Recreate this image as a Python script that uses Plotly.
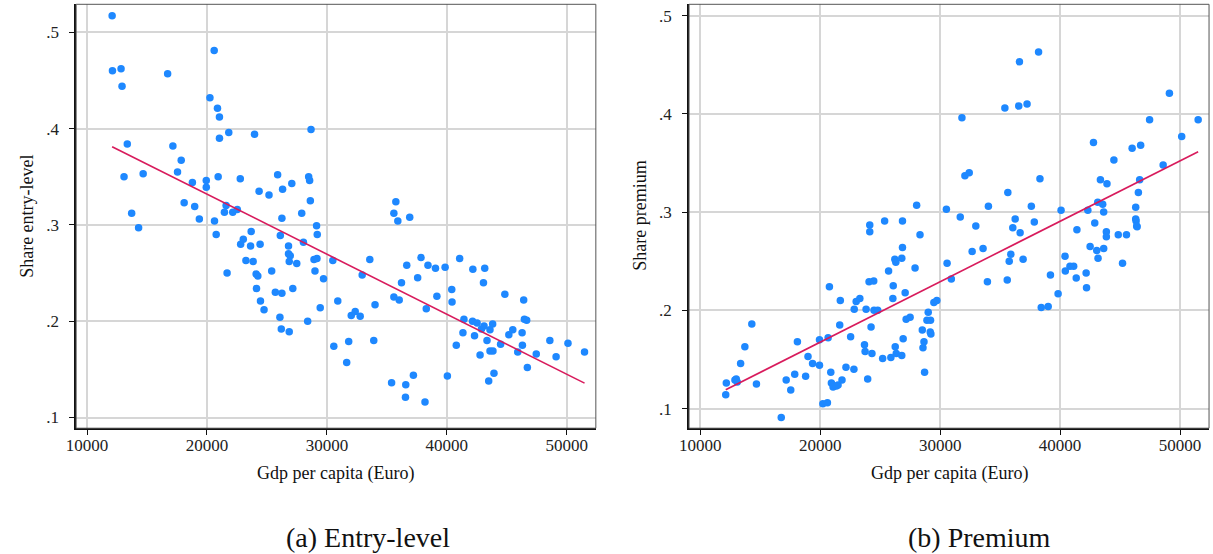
import numpy as np
import plotly.graph_objects as go

# ---------------- data ----------------
gdp_entry = [12091,12117,12835,12917,13355,13083,14678,13719,14297,16719,
             17157,17851,17545,18785,18099,18975,19364,19942,19942,20628,
             20603,20248,20876,21041,21041,21818,20934,21595,21455,22149,
             22529,22777,23967,24347,25174,25893,26306,26248,27074,27901,
             28480,28562,28678,28620,29140,29198,20769,23686,23029,22810,
             23636,24430,26116,26802,26800,26942,26860,27488,28045,28926,
             29174,29008,29719,30496,23248,23851,21678,24099,24240,25397,
             24132,25702,26248,27157,24463,24760,26083,26198,26860,28397,
             29446,30909,32033,32364,32777,30578,31818,35752,35587,35917,
             36909,33579,32944,34017,33909,31653,35397,36579,36554,37215,
             38182,35587,36033,36223,36661,37851,37570,38430,38289,39058,
             39860,39174,40413,40438,41074,42174,43165,43058,44843,46413,
             40050,40793,41430,41347,42149,42529,42314,42777,43107,42893,
             43826,43603,43355,43603,43851,43496,43934,44488,45174,45504,
             46281,46306,45917,46471,46661,46719,47463,48595,49116,50107,
             51488]
share_entry = [.517,.460,.462,.444,.384,.350,.353,.312,.297,.457,
               .382,.367,.355,.344,.323,.319,.306,.346,.339,.304,
               .481,.432,.421,.412,.390,.396,.350,.320,.313,.313,
               .316,.348,.394,.335,.331,.352,.337,.307,.343,.312,
               .350,.346,.399,.325,.299,.290,.290,.293,.285,.280,
               .278,.280,.289,.278,.270,.268,.262,.260,.282,.264,
               .265,.252,.244,.263,.263,.262,.250,.249,.247,.252,
               .234,.230,.229,.234,.221,.212,.204,.192,.189,.200,
               .214,.221,.206,.210,.205,.174,.179,.324,.312,.304,
               .308,.264,.248,.217,.180,.157,.136,.134,.121,.144,
               .116,.225,.222,.240,.258,.266,.245,.258,.213,.255,
               .256,.226,.233,.220,.265,.254,.255,.240,.228,.222,
               .143,.175,.202,.188,.200,.198,.185,.165,.195,.192,
               .197,.191,.180,.169,.169,.138,.146,.176,.186,.191,
               .188,.175,.168,.202,.201,.152,.166,.180,.163,.177,
               .168]

gdp_premium = [12124,12174,12893,13000,13083,13364,13719,14298,14686,16752,
               17165,17545,17876,18099,18785,18983,19364,19942,19942,20223,
               20603,20661,20769,20884,20934,21074,21347,21488,21818,22149,
               21628,21678,22537,22810,22837,23000,23306,23826,24488,24793,
               23694,23744,24314,23959,24240,24074,24463,24132,24132,25207,
               25893,25702,26091,26058,26256,26339,26802,26223,26306,26802,
               26860,26917,27083,27165,27496,27909,25372,26860,28041,28322,
               28512,28570,28653,28703,29008,29479,29727,28901,29198,29174,
               29231,30521,31678,32669,30579,30934,32975,33579,33942,35595,
               35760,35893,36058,36256,36669,36917,37851,38430,39008,39198,
               39835,40413,40438,40826,41132,41347,41405,42174,42207,42504,
               42893,43058,43165,43636,43860,43860,44851,45537,45207,46339,
               46422,36554,37248,49116,47463,51512,50140,42785,46008,46719,
               44488,48595,38322,43364,43909,46636,46529,37603,40083,42314,
               43140,43554,43636,46306,46306,46388,38207,36612,35397,31818,
               32066,32424,35645,34025]
share_premium = [.114,.126,.129,.130,.127,.146,.163,.186,.125,.091,
                 .129,.119,.135,.168,.133,.153,.146,.170,.144,.105,
                 .106,.172,.224,.137,.126,.122,.123,.124,.129,.142,
                 .185,.210,.173,.140,.201,.209,.212,.201,.200,.200,
                 .165,.158,.156,.130,.183,.229,.230,.287,.280,.151,
                 .152,.240,.225,.212,.163,.156,.154,.252,.249,.253,
                 .264,.171,.218,.191,.193,.243,.291,.291,.307,.277,
                 .180,.162,.168,.137,.198,.208,.210,.190,.190,.178,
                 .176,.303,.295,.260,.248,.232,.286,.263,.229,.231,
                 .250,.257,.284,.293,.279,.252,.290,.203,.204,.236,
                 .217,.255,.240,.245,.245,.233,.282,.238,.223,.265,
                 .289,.261,.253,.263,.280,.275,.277,.277,.248,.291,
                 .285,.408,.410,.421,.394,.394,.377,.371,.365,.368,
                 .353,.348,.334,.333,.329,.333,.320,.306,.302,.302,
                 .310,.308,.300,.305,.293,.286,.463,.453,.406,.396,
                 .337,.340,.320,.306]

x_ticks = [10000, 20000, 30000, 40000, 50000]
y_ticks = [0.1, 0.2, 0.3, 0.4, 0.5]
y_ticktext = [".1", ".2", ".3", ".4", ".5"]

x_title = "Gdp per capita (Euro)"
y_title_entry = "Share entry-level"
y_title_premium = "Share premium"
caption_entry = "(a) Entry-level"
caption_premium = "(b) Premium"

# ---------------- style ----------------
W, H = 1213, 554
FONT = "Liberation Serif"
DOT = "#1e88ff"
FIT = "#d81b5c"
GRID = "#d6d6d6"

def fit_line(x, y):
    x = np.asarray(x, float); y = np.asarray(y, float)
    b, a = np.polyfit(x, y, 1)
    xs = np.array([x.min(), x.max()])
    return xs, a + b * xs

fig = go.Figure()

for xs, ys, xa, ya in [(gdp_entry, share_entry, "x", "y"),
                       (gdp_premium, share_premium, "x2", "y2")]:
    fig.add_trace(go.Scatter(x=xs, y=ys, mode="markers", xaxis=xa, yaxis=ya,
                             marker=dict(color=DOT, size=7.5, line=dict(width=0)),
                             showlegend=False, hoverinfo="x+y"))
    fx, fy = fit_line(xs, ys)
    fig.add_trace(go.Scatter(x=fx, y=fy, mode="lines", xaxis=xa, yaxis=ya,
                             line=dict(color=FIT, width=1.6),
                             showlegend=False, hoverinfo="skip"))

def px_x(p): return p / W
def px_y(p): return 1 - p / H

ydom = [px_y(428.2), px_y(4.3)]
common_x = dict(tickvals=x_ticks, ticktext=[str(v) for v in x_ticks],
                showgrid=True, gridcolor=GRID, gridwidth=1.5, zeroline=False,
                showline=True, linecolor="#111", linewidth=1.6,
                ticks="outside", ticklen=5, tickcolor="#111", tickwidth=1,
                ticklabelstandoff=-4,
                tickfont=dict(family=FONT, size=17, color="#222"))
common_y = dict(tickvals=y_ticks, ticktext=y_ticktext,
                showgrid=True, gridcolor=GRID, gridwidth=1.5, zeroline=False,
                showline=True, linecolor="#111", linewidth=1.6,
                ticks="outside", ticklen=5, tickcolor="#111", tickwidth=1,
                ticklabelstandoff=7,
                tickfont=dict(family=FONT, size=17, color="#222"),
                domain=ydom)

fig.update_layout(
    width=W, height=H,
    margin=dict(l=0, r=0, t=0, b=0),
    paper_bgcolor="white", plot_bgcolor="white",
    xaxis=dict(common_x, domain=[px_x(66.7), px_x(590.7)], range=[9090, 52430], anchor="y"),
    yaxis=dict(common_y, range=[0.0889, 0.529], anchor="x"),
    xaxis2=dict(common_x, domain=[px_x(684.7), px_x(1209)], range=[9066, 52420], anchor="y2"),
    yaxis2=dict(common_y, range=[0.080, 0.5116], anchor="x2"),
)

# thin frame on top/right
for xr, yr in [("x domain", "y domain"), ("x2 domain", "y2 domain")]:
    fig.add_shape(type="rect", xref=xr, yref=yr, x0=0, x1=1, y0=0, y1=1,
                  line=dict(color="#555", width=1), layer="above")

ann = []
def text(s, x, y, size, angle=0):
    ann.append(dict(text=s, x=px_x(x), y=px_y(y), xref="paper", yref="paper",
                    showarrow=False, textangle=angle, xanchor="center", yanchor="middle",
                    font=dict(family=FONT, size=size, color="#111")))

text(x_title, 328.7, 474, 18)
text(x_title, 946.9, 474, 18)
text(y_title_entry, 17, 216, 18, -90)
text(y_title_premium, 635, 216, 18, -90)
text(caption_entry, 361, 537, 28)
text(caption_premium, 978, 537, 28)
fig.update_layout(annotations=ann)

fig.write_html("out.html",
               config={"displayModeBar": False},
               post_script="document.body.style.margin='0px';"
                           "document.body.style.overflow='hidden';")
